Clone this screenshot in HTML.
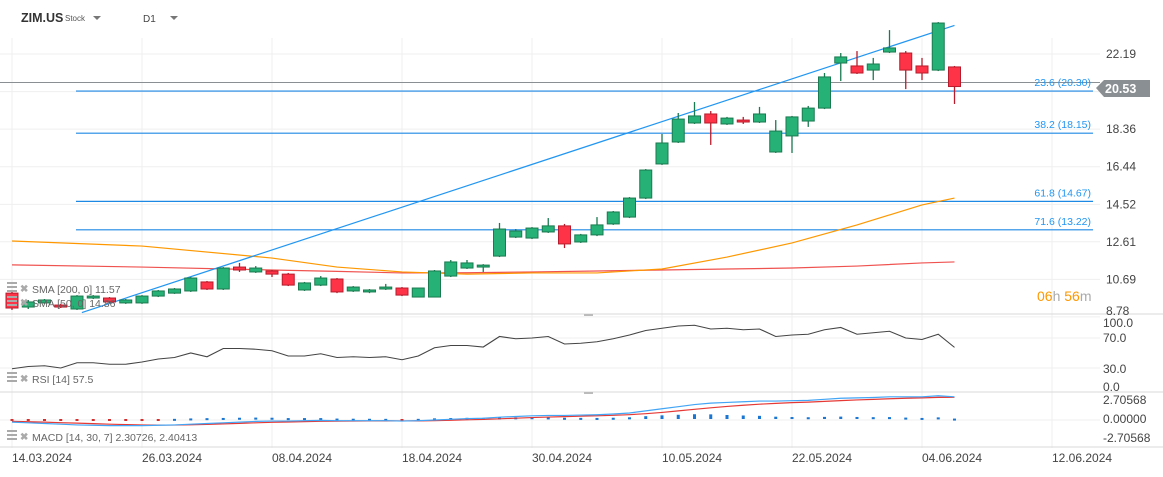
<!DOCTYPE html>
<html><head><meta charset="utf-8">
<style>
html,body{margin:0;padding:0;background:#fff;}
body{width:1163px;height:472px;overflow:hidden;font-family:"Liberation Sans",Arial,sans-serif;}
svg text{font-family:"Liberation Sans",Arial,sans-serif;}
</style></head>
<body>
<svg id="chart" width="1163" height="472" viewBox="0 0 1163 472" xmlns="http://www.w3.org/2000/svg">
<g id="grid"></g>
<g id="main"></g>
<g id="rsi"></g>
<g id="macd"></g>
<g id="axes"></g>
<g id="hdr">
 <text x="21" y="22" font-size="12.5" font-weight="bold" fill="#333">ZIM.US</text>
 <text x="65" y="21" font-size="8" fill="#555">Stock</text>
 <path d="M93 16 L101 16 L97 20 Z" fill="#777"/>
 <text x="143" y="22" font-size="10" fill="#444">D1</text>
 <path d="M170 16 L178 16 L174 20 Z" fill="#777"/>
</g>
</svg>
<script>
// ---- data ----
const dates = ["14.03.2024","26.03.2024","08.04.2024","18.04.2024","30.04.2024","10.05.2024","22.05.2024","04.06.2024","12.06.2024"];
const dateIdx = [0,8,16,24,32,40,48,56,64];
const opens  = [9.99,9.28,9.49,9.38,9.18,9.74,9.74,9.49,9.49,9.84,9.99,10.10,10.56,10.20,11.32,11.07,11.12,10.96,10.15,10.40,10.71,10.10,10.05,10.20,10.25,9.79,9.79,10.86,11.27,11.32,11.88,12.85,12.80,13.11,13.42,12.60,12.96,13.52,13.87,14.84,16.58,17.70,18.67,19.13,18.62,18.82,18.72,17.19,18.01,18.77,19.43,21.73,21.58,21.37,22.29,22.24,21.58,21.37,21.53];
const closes = [9.23,9.54,9.64,9.28,9.84,9.84,9.54,9.64,9.84,10.10,10.20,10.76,10.20,11.27,11.17,11.27,10.96,10.40,10.51,10.76,10.05,10.30,10.15,10.30,9.89,10.25,11.12,11.58,11.53,11.42,13.26,13.16,13.31,13.42,12.50,12.96,13.47,14.13,14.84,16.27,17.65,18.87,19.03,18.67,18.92,18.72,19.13,18.26,18.98,19.43,21.02,22.04,21.22,21.68,22.50,21.37,21.22,23.77,20.53];
const highs  = [10.15,9.64,9.69,9.44,9.89,9.89,9.79,9.69,9.89,10.15,10.25,10.81,10.61,11.32,11.53,11.37,11.17,11.02,10.56,10.86,10.76,10.35,10.20,10.46,10.30,10.25,11.17,11.68,11.68,11.47,13.57,13.26,13.36,13.82,13.52,13.01,13.87,14.18,14.89,16.32,18.11,19.18,19.74,19.28,18.98,18.98,19.49,18.82,19.03,19.54,21.22,22.24,22.34,21.99,23.41,22.34,21.99,23.82,21.58];
const lows   = [9.13,9.18,9.44,9.23,9.13,9.69,9.49,9.44,9.44,9.79,9.95,10.05,10.15,10.15,11.07,11.02,10.81,10.35,10.10,10.35,9.99,10.05,9.99,10.15,9.84,9.79,9.79,10.81,11.22,11.07,11.83,12.80,12.75,13.06,12.29,12.55,12.90,13.47,13.82,14.79,16.53,17.65,18.62,17.55,18.57,18.62,18.67,17.14,17.14,18.47,19.38,20.81,21.17,20.86,22.24,20.40,20.86,21.32,19.64];
const smaIdx = [0,8,16,20,24,28,32,36,40,44,48,52,56,58];
const sma50  = [12.65,12.39,11.78,11.32,11.07,10.96,11.02,11.02,11.22,11.83,12.55,13.47,14.49,14.84];
const sma200 = [11.43,11.32,11.17,11.10,11.02,11.03,11.07,11.12,11.17,11.22,11.27,11.37,11.53,11.58];
const fibLevels = [20.30,18.15,14.67,13.22];
const fibLabels = ["23.6 (20.30)","38.2 (18.15)","61.8 (14.67)","71.6 (13.22)"];
const trendStart = [4.3,9.0], trendEnd = [58,23.65];
const priceTicks = ["22.19","20.27","18.36","16.44","14.52","12.61","10.69","8.78"];
const rsi = [29,32,33,30,37,37,35,35,38,42,44,50,45,56,56,55,53,46,46,49,44,45,44,45,41,46,57,60,60,58,72,69,70,72,62,63,65,69,74,80,83,86,87,82,83,81,82,72,74,75,81,84,75,77,79,70,68,75,57.5];
const rsiTicks = ["100.0","70.0","30.0","0.0"];
const macdLine = [-0.3,-0.4,-0.5,-0.6,-0.7,-0.75,-0.8,-0.8,-0.8,-0.75,-0.7,-0.6,-0.5,-0.4,-0.3,-0.2,-0.15,-0.15,-0.1,-0.05,-0.1,-0.1,-0.1,-0.1,-0.15,-0.1,0.0,0.1,0.2,0.25,0.4,0.5,0.6,0.65,0.65,0.7,0.75,0.85,1.0,1.3,1.6,1.9,2.2,2.4,2.5,2.6,2.7,2.7,2.75,2.8,2.95,3.1,3.15,3.2,3.3,3.3,3.3,3.45,3.3];
const signalLine = [-0.2,-0.25,-0.3,-0.38,-0.45,-0.52,-0.6,-0.65,-0.7,-0.72,-0.72,-0.68,-0.62,-0.55,-0.48,-0.4,-0.33,-0.28,-0.23,-0.18,-0.16,-0.14,-0.13,-0.12,-0.13,-0.12,-0.09,-0.04,0.03,0.09,0.17,0.26,0.35,0.42,0.48,0.54,0.6,0.67,0.76,0.9,1.08,1.3,1.52,1.74,1.93,2.1,2.25,2.37,2.47,2.55,2.65,2.76,2.86,2.94,3.03,3.1,3.15,3.22,3.24];
const macdTicks = ["2.70568","0.00000","-2.70568"];
const lastPrice = 20.53;

// ---- scales ----
const NS="http://www.w3.org/2000/svg";
const xC = i => 12 + i*16.25;
const yP = p => 54 + (22.19 - p)*19.6;
const yR = v => 390.5 - v*0.75;
const yM = v => 420 - v*7.02;
function mk(tag, attrs, parent){const e=document.createElementNS(NS,tag);for(const k in attrs)e.setAttribute(k,attrs[k]);document.getElementById(parent).appendChild(e);return e;}

// grid
dateIdx.forEach((d,k)=>{
  const g=mk('line',{x1:xC(d),x2:xC(d),y1:38,y2:448,stroke:'#efefef','stroke-width':1},'grid');
  
  
});
priceTicks.forEach(t=>{
  const g=mk('line',{x1:0,x2:1100,y1:yP(+t),y2:yP(+t),stroke:'#efefef'},'grid');
  
  
});
[70,30].forEach(v=>{mk('line',{x1:0,x2:1100,y1:yR(v),y2:yR(v),stroke:'#efefef'},'grid');});
[0].forEach(v=>{mk('line',{x1:0,x2:1100,y1:yM(v),y2:yM(v),stroke:'#efefef'},'grid');});
// separators
[314,392,447].forEach(y=>{
  const s=mk('line',{x1:0,x2:1163,y1:y,y2:y,stroke:'#d8d8d8'},'grid');
  
  
});
mk('rect',{x:584,y:314,width:9,height:2,fill:'#bbb'},'grid');
mk('rect',{x:584,y:392,width:9,height:2,fill:'#bbb'},'grid');

// last price gray line
const lp=mk('line',{x1:0,x2:1100,y1:yP(lastPrice)-4,y2:yP(lastPrice)-4,stroke:'#8a8f93','stroke-width':1},'main');



// fib lines
fibLevels.forEach((f,k)=>{
  const l=mk('line',{x1:76,x2:1093,y1:yP(f),y2:yP(f),stroke:'#1e88e5','stroke-width':1.2},'main');
  
  
  const t=mk('text',{x:1091,y:yP(f)-5,'font-size':10.5,fill:'#2196f3','text-anchor':'end'},'main');
  t.textContent=fibLabels[k];
  
  
});

// SMA lines
function poly(idx,vals,color,w,name){
  const pts=idx.map((i,k)=>xC(i)+','+yP(vals[k])).join(' ');
  const p=mk('polyline',{points:pts,fill:'none',stroke:color,'stroke-width':w},'main');
  
  
}
poly(smaIdx,sma200,'#ef5350',1.2,'sma-200-line');
poly(smaIdx,sma50,'#ff9800',1.2,'sma-50-line');

// trend line
const tl=mk('line',{x1:xC(trendStart[0]),y1:yP(trendStart[1]),x2:xC(trendEnd[0]),y2:yP(trendEnd[1]),stroke:'#2196f3','stroke-width':1.2},'main');



// candles
opens.forEach((o,i)=>{
  const c=closes[i], up=c>=o;
  const fill=up?'#26b276':'#ff3347', stroke=up?'#1a7a50':'#b71c2c';
  const x=xC(i);
  const w=mk('line',{x1:x,x2:x,y1:yP(highs[i]),y2:yP(lows[i]),stroke:stroke,'stroke-width':1.3},'main');
  
  
  const top=yP(Math.max(o,c)), h=Math.max(1.5,Math.abs(yP(o)-yP(c)));
  const b=mk('rect',{x:x-6,y:top,width:12,height:h,fill:fill,stroke:stroke,'stroke-width':1},'main');
  
  
});

// RSI
const rp=mk('polyline',{points:rsi.map((v,i)=>xC(i)+','+yR(v)).join(' '),fill:'none',stroke:'#444','stroke-width':1.1},'rsi');



// MACD histogram + lines
macdLine.forEach((m,i)=>{
  const h=m-signalLine[i];
  const y0=yM(0), y1=yM(h);
  const r=mk('rect',{x:xC(i)-1.5,y:Math.min(y0,y1)-1,width:3,height:Math.max(2,Math.abs(y1-y0)),fill:h>=0?'#1976d2':'#d32f2f'},'macd');
  
  
});
const sp=mk('polyline',{points:signalLine.map((v,i)=>xC(i)+','+yM(v)).join(' '),fill:'none',stroke:'#e53935','stroke-width':1.2},'macd');


const mp=mk('polyline',{points:macdLine.map((v,i)=>xC(i)+','+yM(v)).join(' '),fill:'none',stroke:'#42a5f5','stroke-width':1.2},'macd');



// axes labels
priceTicks.forEach((t,k)=>{
  const e=mk('text',{x:1106,y:(k==7?315:yP(+t)+4),'font-size':12,fill:'#444'},'axes');
  e.textContent=t;
  
  
});
const rsiY=[327,342,373,391];
rsiTicks.forEach((t,k)=>{
  const e=mk('text',{x:1103,y:rsiY[k],'font-size':12,fill:'#444'},'axes');
  e.textContent=t;
  
  
});
const macdY=[404,423,442];
macdTicks.forEach((t,k)=>{
  const e=mk('text',{x:1103,y:macdY[k],'font-size':12,fill:'#444'},'axes');
  e.textContent=t;
  
  
});
dates.forEach((d,k)=>{
  const e=mk('text',{x:xC(dateIdx[k]),y:462,'font-size':12,fill:'#444'},'axes');
  e.textContent=d;
  
  
});
// last price tag
const tag=mk('path',{d:'M1096 88 L1104 80 L1150 80 L1150 97 L1104 97 Z',fill:'#8a8f93'},'axes');


const tt=mk('text',{x:1105,y:93,'font-size':12.5,fill:'#fff','font-weight':'bold'},'axes');
tt.textContent=lastPrice.toFixed(2);


// countdown
const cd=mk('text',{x:1037,y:301,'font-size':14,fill:'#ff9800'},'axes');
cd.innerHTML='06<tspan fill="#aaa">h</tspan> 56<tspan fill="#aaa">m</tspan>';



// legends
function legend(y,txt,name){
  const g=mk('g',{},'axes');
  
  
  mk('rect',{x:7,y:y-9,width:10,height:2,fill:'#aaa'},'axes');
  mk('rect',{x:7,y:y-5,width:10,height:2,fill:'#aaa'},'axes');
  mk('rect',{x:7,y:y-1,width:10,height:2,fill:'#aaa'},'axes');
  const x=mk('text',{x:20,y:y+1,'font-size':10,fill:'#aaa','font-weight':'bold'},'axes');
  x.textContent='✖';
  const t=mk('text',{x:32,y:y+2,'font-size':10.5,fill:'#666'},'axes');
  t.textContent=txt;
  
  
}
legend(291,'SMA  [200,  0]  11.57','sma-200-legend');
legend(305,'SMA  [50,  0]  14.86','sma-50-legend');
legend(381,'RSI  [14]  57.5','rsi-legend');
legend(439,'MACD  [14,  30,  7]  2.30726,   2.40413','macd-legend');
</script>
</body></html>
